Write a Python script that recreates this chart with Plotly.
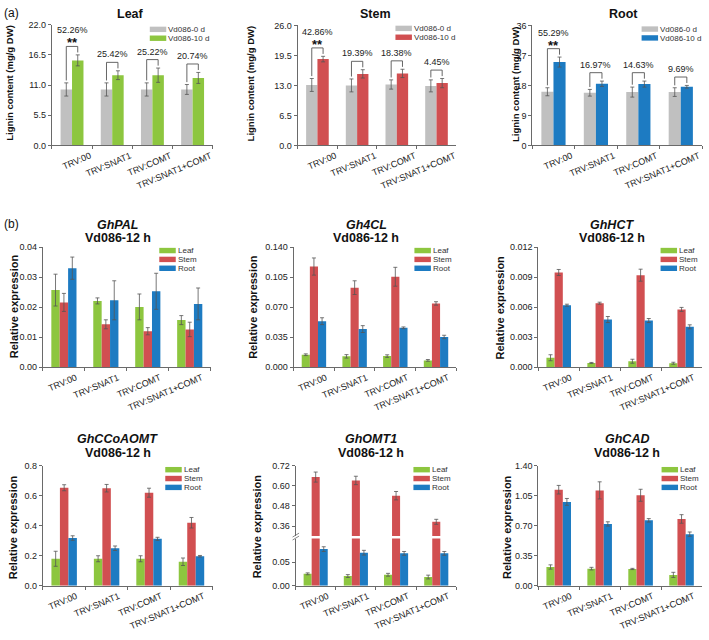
import plotly.graph_objects as go

W, H = 709, 640
FONT = "Liberation Sans, Arial, Helvetica, sans-serif"

# ---------------- data ----------------
categories = ["TRV:00", "TRV:SNAT1", "TRV:COMT", "TRV:SNAT1+COMT"]

# (a) lignin content (mg/g DW)
lignin_series = ["Vd086-0 d", "Vd086-10 d"]
leaf_0d = [10.2, 10.2, 10.2, 10.2]
leaf_0d_err = [1.2, 1.2, 1.2, 0.9]
leaf_10d = [15.5, 12.8, 12.8, 12.3]
leaf_10d_err = [1.0, 0.8, 1.3, 1.0]
leaf_pct = ["52.26%", "25.42%", "25.22%", "20.74%"]

stem_0d = [13.1, 13.0, 13.2, 12.9]
stem_0d_err = [1.4, 1.4, 1.0, 1.3]
stem_10d = [18.7, 15.5, 15.6, 13.5]
stem_10d_err = [0.6, 0.9, 0.9, 1.0]
stem_pct = ["42.86%", "19.39%", "18.38%", "4.45%"]

root_0d = [16.1, 15.8, 16.0, 16.0]
root_0d_err = [1.2, 1.0, 1.5, 1.3]
root_10d = [25.0, 18.5, 18.4, 17.6]
root_10d_err = [1.5, 0.8, 0.9, 0.4]
root_pct = ["55.29%", "16.97%", "14.63%", "9.69%"]

signif = ["**", "", "", ""]

leaf_ticks = [0, 5.5, 11, 16.5, 22]
stem_ticks = [0, 6.5, 13, 19.5, 26]
root_ticks = [0, 9, 18, 27, 36]

# (b) relative expression
tissues = ["Leaf", "Stem", "Root"]
pal_leaf = [0.0257, 0.0221, 0.0201, 0.0157]
pal_leaf_err = [0.0053, 0.0010, 0.0043, 0.0015]
pal_stem = [0.0216, 0.0143, 0.0120, 0.0126]
pal_stem_err = [0.0030, 0.0015, 0.0012, 0.0024]
pal_root = [0.0330, 0.0223, 0.0253, 0.0211]
pal_root_err = [0.0037, 0.0065, 0.0060, 0.0053]
pal_ticks = [0, 0.01, 0.02, 0.03, 0.04]

c4l_leaf = [0.0146, 0.0127, 0.0130, 0.0080]
c4l_leaf_err = [0.0010, 0.0020, 0.0015, 0.0010]
c4l_stem = [0.1174, 0.0928, 0.1055, 0.0744]
c4l_stem_err = [0.0100, 0.0080, 0.0110, 0.0020]
c4l_root = [0.0537, 0.0445, 0.0460, 0.0353]
c4l_root_err = [0.0040, 0.0040, 0.0010, 0.0020]
c4l_ticks = [0, 0.035, 0.07, 0.105, 0.14]

hct_leaf = [0.00095, 0.00043, 0.00060, 0.00040]
hct_leaf_err = [0.00030, 0.00005, 0.00020, 0.00010]
hct_stem = [0.00947, 0.00640, 0.00920, 0.00578]
hct_stem_err = [0.00030, 0.00010, 0.00060, 0.00020]
hct_root = [0.00620, 0.00477, 0.00467, 0.00404]
hct_root_err = [0.00010, 0.00030, 0.00020, 0.00020]
hct_ticks = [0, 0.003, 0.006, 0.009, 0.012]

ccoa_leaf = [0.180, 0.180, 0.180, 0.160]
ccoa_leaf_err = [0.050, 0.020, 0.020, 0.025]
ccoa_stem = [0.653, 0.650, 0.620, 0.420]
ccoa_stem_err = [0.020, 0.025, 0.030, 0.035]
ccoa_root = [0.318, 0.250, 0.313, 0.197]
ccoa_root_err = [0.015, 0.015, 0.010, 0.005]
ccoa_ticks = [0, 0.2, 0.4, 0.6, 0.8]

omt_leaf = [0.0253, 0.0206, 0.0233, 0.0185]
omt_leaf_err = [0.0020, 0.0030, 0.0030, 0.0040]
omt_stem = [0.652, 0.632, 0.541, 0.385]
omt_stem_err = [0.030, 0.025, 0.025, 0.015]
omt_root = [0.0776, 0.0700, 0.0686, 0.0686]
omt_root_err = [0.0050, 0.0050, 0.0040, 0.0040]
omt_ticks_low = [0, 0.05]
omt_ticks_high = [0.36, 0.48, 0.60, 0.72]

cad_leaf = [0.219, 0.200, 0.196, 0.127]
cad_leaf_err = [0.025, 0.015, 0.007, 0.030]
cad_stem = [1.120, 1.112, 1.055, 0.779]
cad_stem_err = [0.050, 0.100, 0.070, 0.050]
cad_root = [0.978, 0.721, 0.763, 0.602]
cad_root_err = [0.040, 0.025, 0.020, 0.025]
cad_ticks = [0, 0.35, 0.70, 1.05, 1.40]

gene_names = ["GhPAL", "Gh4CL", "GhHCT", "GhCCoAOMT", "GhOMT1", "GhCAD"]
condition = "Vd086-12 h"

# ---------------- style ----------------
GRAY = "#c0c0c0"
GREEN = "#8dc63f"
RED = "#d14f51"
BLUE = "#1d7bc2"
AXIS = "#6a6a6a"
TXT = "#222222"
ERR = dict(type="data", color="#555555", thickness=0.8, width=2)


def fx(px):
    return px / W


def fy(py):
    return 1 - py / H


fig = go.Figure()
layout = dict(
    width=W, height=H, margin=dict(l=0, r=0, t=0, b=0),
    paper_bgcolor="white", plot_bgcolor="white",
    barmode="overlay", showlegend=False,
    font=dict(family=FONT, size=9, color=TXT),
)
annotations = []
shapes = []

# panel geometry in pixels: (x0, x1, ytop, ybottom)
geom = {
    1: (52, 213, 20, 142.7), 2: (298, 457, 20.7, 142.7), 3: (533, 703, 20.7, 142.7),
    4: (43, 211, 246, 368), 5: (294, 457, 246, 368), 6: (539, 703, 246, 368),
    7: (43, 213, 468, 590), 8: (296, 457, 542, 590), 9: (539, 703, 468, 590),
}


def sfx(i):
    return "" if i == 1 else str(i)


def add_axes(i, yrange, ticks, fmt, shift):
    x0, x1, yt, yb = geom[i]
    layout["xaxis" + sfx(i)] = dict(
        domain=[fx(x0), fx(x1)], anchor="y" + sfx(i), type="category",
        range=[-0.5, 3.5], showline=True, linecolor=AXIS, linewidth=1,
        ticks="outside", tickson="boundaries", ticklen=3, tickcolor=AXIS,
        tickangle=-23, ticklabelshift=shift, ticklabelstandoff=1,
        tickfont=dict(size=9, color=TXT), showgrid=False, zeroline=False,
        fixedrange=True,
    )
    layout["yaxis" + sfx(i)] = dict(
        domain=[fy(yb), fy(yt)], anchor="x" + sfx(i), range=yrange,
        tickmode="array", tickvals=ticks, tickformat=fmt,
        showline=True, linecolor=AXIS, linewidth=1, ticks="outside",
        ticklen=3, tickcolor=AXIS, tickfont=dict(size=9, color=TXT),
        showgrid=False, zeroline=False, fixedrange=True,
    )


def legend(px, py, labels, colors):
    for k, (lab, col) in enumerate(zip(labels, colors)):
        top = py + 9 * k
        shapes.append(dict(type="rect", xref="paper", yref="paper",
                           x0=fx(px), x1=fx(px + 16.5), y0=fy(top + 5.5), y1=fy(top),
                           fillcolor=col, line=dict(width=0)))
        annotations.append(dict(text=lab, xref="paper", yref="paper",
                                x=fx(px + 17.5), y=fy(top + 2.9), xanchor="left",
                                yanchor="middle", showarrow=False, borderpad=0,
                                font=dict(size=8, color="#333333")))


def ytitle(px, py, text, size):
    annotations.append(dict(text="<b>" + text + "</b>", xref="paper", yref="paper",
                            x=fx(px), y=fy(py), textangle=-90, showarrow=False,
                            xanchor="center", yanchor="middle",
                            font=dict(size=size, color="#111111")))


def title(px, py, text, size=12.5):
    annotations.append(dict(text=text, xref="paper", yref="paper",
                            x=fx(px), y=fy(py), showarrow=False,
                            xanchor="center", yanchor="middle",
                            font=dict(size=size, color="#111111")))


# ---------------- (a) lignin panels ----------------
WA = 0.285
lignin = [
    (1, "Leaf", leaf_0d, leaf_0d_err, leaf_10d, leaf_10d_err, leaf_pct, GREEN, [0, 22], leaf_ticks, ".1f"),
    (2, "Stem", stem_0d, stem_0d_err, stem_10d, stem_10d_err, stem_pct, RED, [0, 26], stem_ticks, ".1f"),
    (3, "Root", root_0d, root_0d_err, root_10d, root_10d_err, root_pct, BLUE, [0, 36], root_ticks, "d"),
]
title_pos_a = {1: 131, 2: 376, 3: 624}
ytitle_pos_a = {1: (10, 79), 2: (251, 80), 3: (516, 80)}
legend_pos_a = {1: (150, 22), 2: (396, 21), 3: (642.5, 21.7)}

for i, name, v0, e0, v1, e1, pct, col, yr, tk, fmt in lignin:
    xa, ya = "x" + sfx(i), "y" + sfx(i)
    fig.add_trace(go.Bar(x=categories, y=v0, error_y=dict(ERR, array=e0), name=lignin_series[0],
                         marker=dict(color=GRAY, line=dict(width=0)), width=WA, offset=-WA,
                         xaxis=xa, yaxis=ya))
    fig.add_trace(go.Bar(x=categories, y=v1, error_y=dict(ERR, array=e1), name=lignin_series[1],
                         marker=dict(color=col, line=dict(width=0)), width=WA, offset=0,
                         xaxis=xa, yaxis=ya))
    add_axes(i, yr, tk, fmt, 18)
    R = yr[1] - yr[0]
    for k in range(4):
        a_top = v0[k] + e0[k]
        b_top = v1[k] + e1[k]
        top = max(a_top, b_top) + 0.07 * R
        xl, xr = k - WA / 2, k + WA / 2
        ln = dict(color="#555555", width=0.9)
        shapes.append(dict(type="line", xref=xa, yref=ya, x0=xl, x1=xl, y0=a_top + 0.02 * R, y1=top, line=ln))
        shapes.append(dict(type="line", xref=xa, yref=ya, x0=xr, x1=xr, y0=b_top + 0.02 * R, y1=top, line=ln))
        shapes.append(dict(type="line", xref=xa, yref=ya, x0=xl, x1=xr, y0=top, y1=top, line=ln))
        if signif[k]:
            annotations.append(dict(text="<b>" + signif[k] + "</b>", xref=xa, yref=ya, x=k, y=top,
                                    yanchor="bottom", yshift=-6, showarrow=False,
                                    font=dict(size=13, color="#111111")))
            annotations.append(dict(text=pct[k], xref=xa, yref=ya, x=k, y=top, yanchor="bottom",
                                    yshift=9, showarrow=False, font=dict(size=9, color=TXT)))
        else:
            annotations.append(dict(text=pct[k], xref=xa, yref=ya, x=k, y=top, yanchor="bottom",
                                    yshift=1, showarrow=False, font=dict(size=9, color=TXT)))
    title(title_pos_a[i], 9, "<b>" + name + "</b>", 12.5)
    ytitle(*ytitle_pos_a[i], "Lignin content (mg/g DW)", 9.5)
    legend(*legend_pos_a[i], lignin_series, [GRAY, col])

# ---------------- (b) expression panels ----------------
WB = 0.2
offs = [-1.5 * WB, -0.5 * WB, 0.5 * WB]
tcolors = [GREEN, RED, BLUE]
expr = [
    (4, gene_names[0], [pal_leaf, pal_stem, pal_root], [pal_leaf_err, pal_stem_err, pal_root_err], [0, 0.04], pal_ticks, ".2f"),
    (5, gene_names[1], [c4l_leaf, c4l_stem, c4l_root], [c4l_leaf_err, c4l_stem_err, c4l_root_err], [0, 0.14], c4l_ticks, ".3f"),
    (6, gene_names[2], [hct_leaf, hct_stem, hct_root], [hct_leaf_err, hct_stem_err, hct_root_err], [0, 0.012], hct_ticks, ".3f"),
    (7, gene_names[3], [ccoa_leaf, ccoa_stem, ccoa_root], [ccoa_leaf_err, ccoa_stem_err, ccoa_root_err], [0, 0.8], ccoa_ticks, ".1f"),
    (8, gene_names[4], [omt_leaf, omt_stem, omt_root], [omt_leaf_err, omt_stem_err, omt_root_err], [0, 0.1], omt_ticks_low, ".2f"),
    (9, gene_names[5], [cad_leaf, cad_stem, cad_root], [cad_leaf_err, cad_stem_err, cad_root_err], [0, 1.4], cad_ticks, ".2f"),
]
title_pos_b = {4: (118, 223.3, 236.7), 5: (367, 223.3, 236.7), 6: (613, 223.3, 236.7),
               7: (118, 441.3, 455.5), 8: (372, 441.3, 455.5), 9: (628, 441.3, 455.5)}
ytitle_pos_b = {4: (14, 306), 5: (254, 307), 6: (501, 307),
                7: (12.5, 530), 8: (257, 530), 9: (507, 530)}
legend_pos_b = {4: (159.5, 246.7), 5: (415, 246.7), 6: (661.5, 246.7),
                7: (165.5, 469.3), 8: (414, 469.3), 9: (662.5, 469.3)}

for i, gene, vals, errs, yr, tk, fmt in expr:
    xa, ya = "x" + sfx(i), "y" + sfx(i)
    for t in range(3):
        if i == 8 and t == 1:
            # broken axis: stem bar spans lower and upper segment
            fig.add_trace(go.Bar(x=categories, y=vals[t], name=tissues[t],
                                 marker=dict(color=tcolors[t], line=dict(width=0)),
                                 width=WB, offset=offs[t], xaxis=xa, yaxis=ya))
            fig.add_trace(go.Bar(x=categories, y=vals[t], error_y=dict(ERR, array=errs[t]),
                                 name=tissues[t], marker=dict(color=tcolors[t], line=dict(width=0)),
                                 width=WB, offset=offs[t], xaxis=xa, yaxis="y10"))
        else:
            fig.add_trace(go.Bar(x=categories, y=vals[t], error_y=dict(ERR, array=errs[t]),
                                 name=tissues[t], marker=dict(color=tcolors[t], line=dict(width=0)),
                                 width=WB, offset=offs[t], xaxis=xa, yaxis=ya))
    add_axes(i, yr, tk, fmt, 12)
    cx, y1, y2 = title_pos_b[i]
    title(cx, y1, "<b><i>" + gene + "</i></b>", 12.5)
    title(cx, y2, "<b>" + condition + "</b>", 12.5)
    ytitle(*ytitle_pos_b[i], "Relative expression", 11)
    legend(*legend_pos_b[i], tissues, tcolors)

# upper segment of the broken GhOMT1 axis
layout["yaxis10"] = dict(
    domain=[fy(539.5), fy(468)], anchor="x8", range=[0.3, 0.72],
    tickmode="array", tickvals=omt_ticks_high, tickformat=".2f",
    showline=True, linecolor=AXIS, linewidth=1, ticks="outside", ticklen=3,
    tickcolor=AXIS, tickfont=dict(size=9, color=TXT), showgrid=False,
    zeroline=False, fixedrange=True,
)
for dy in (0, 3):
    shapes.append(dict(type="line", xref="paper", yref="paper",
                       x0=fx(293), x1=fx(299.5), y0=fy(543.5 - dy), y1=fy(539.5 - dy),
                       line=dict(color=AXIS, width=0.8)))

# panel labels
annotations.append(dict(text="(a)", xref="paper", yref="paper", x=fx(2), y=fy(8),
                        xanchor="left", yanchor="middle", showarrow=False,
                        font=dict(size=12, color="#111111")))
annotations.append(dict(text="(b)", xref="paper", yref="paper", x=fx(2), y=fy(222),
                        xanchor="left", yanchor="middle", showarrow=False,
                        font=dict(size=12, color="#111111")))

layout["annotations"] = annotations
layout["shapes"] = shapes
fig.update_layout(**layout)
fig.write_html("out.html", config={"displayModeBar": False},
               post_script="document.body.style.margin='0';document.body.style.overflow='hidden';")
